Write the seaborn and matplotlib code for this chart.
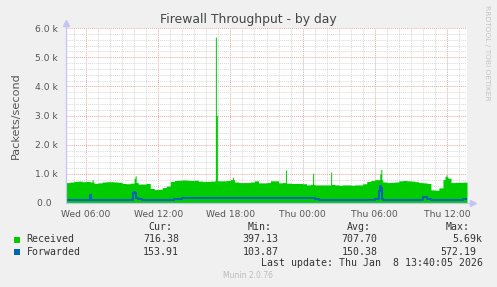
import numpy as np
import pandas as pd
import matplotlib
matplotlib.use("Agg")
import matplotlib.pyplot as plt
import matplotlib.dates as mdates
from matplotlib.ticker import MultipleLocator, FixedLocator, FuncFormatter
import seaborn as sns

# ---------------- data (packets/second, 20-minute bins from Wed 04:20) ----------------
start_time = "2026-01-07 04:20"
received_base = [
    700, 720, 740, 750, 730, 740, 720, 670, 690, 720,
    730, 730, 720, 710, 670, 660, 680, 700, 650, 650,
    670, 500, 460, 470, 530, 580, 740, 770, 780, 790,
    780, 770, 780, 750, 740, 740, 750, 760, 760, 760,
    770, 800, 720, 700, 700, 700, 720, 760, 690, 690,
    700, 760, 760, 690, 700, 680, 670, 670, 670, 660,
    620, 640, 620, 620, 620, 620, 640, 620, 610, 620,
    620, 610, 620, 620, 660, 740, 770, 800, 800, 720,
    700, 710, 720, 760, 770, 760, 750, 730, 700, 690,
    670, 450, 440, 520, 800, 850, 700, 710, 710, 716,
]
forwarded_base = [
    120, 120, 100, 100, 100, 110, 110, 110, 110, 110,
    110, 110, 110, 110, 110, 110, 120, 160, 130, 120,
    120, 120, 120, 120, 120, 120, 120, 130, 150, 160,
    160, 160, 160, 160, 160, 160, 160, 160, 160, 160,
    160, 160, 160, 160, 160, 160, 160, 160, 160, 160,
    160, 160, 160, 160, 160, 160, 160, 160, 160, 160,
    160, 160, 140, 120, 120, 120, 120, 120, 110, 120,
    120, 110, 120, 120, 120, 120, 120, 130, 150, 120,
    110, 110, 110, 110, 110, 110, 110, 110, 120, 190,
    130, 120, 120, 120, 120, 120, 120, 120, 120, 154,
]
# short spikes (5-minute samples)
received_spike_times = ["2026-01-07 06:30", "2026-01-07 10:00", "2026-01-07 10:05",
                        "2026-01-07 16:45", "2026-01-07 16:50", "2026-01-07 18:10",
                        "2026-01-07 22:35", "2026-01-08 00:50", "2026-01-08 02:20",
                        "2026-01-08 06:25", "2026-01-08 06:30", "2026-01-08 11:50",
                        "2026-01-08 11:55", "2026-01-08 12:00"]
received_spike_vals = [800, 850, 930, 5690, 3000, 880, 1130, 1020, 1060,
                       1000, 1150, 900, 960, 900]
forwarded_spike_times = ["2026-01-07 06:20", "2026-01-07 09:55", "2026-01-07 10:00",
                         "2026-01-07 10:05", "2026-01-08 06:20", "2026-01-08 06:25",
                         "2026-01-08 06:30", "2026-01-08 10:00"]
forwarded_spike_vals = [270, 330, 390, 350, 400, 572, 500, 220]

yticks = [0, 1000, 2000, 3000, 4000, 5000, 6000]
ytick_labels = ["0.0  ", "1.0 k", "2.0 k", "3.0 k", "4.0 k", "5.0 k", "6.0 k"]
series_names = ["Received", "Forwarded"]
series_colors = ["#00CC00", "#0066B3"]
stat_headers = ["Cur:", "Min:", "Avg:", "Max:"]
stats_received = ["716.38", "397.13", "707.70", "5.69k"]
stats_forwarded = ["153.91", "103.87", "150.38", "572.19"]
last_update = "Last update: Thu Jan  8 13:40:05 2026"

# ---------------- build 5-minute series ----------------
t0 = pd.Timestamp(start_time)
t5 = pd.date_range(t0, periods=400, freq="5min")
rec = pd.Series(np.repeat(np.array(received_base, float), 4), index=t5)
fwd = pd.Series(np.repeat(np.array(forwarded_base, float), 4), index=t5)
for tt, v in zip(received_spike_times, received_spike_vals):
    rec[pd.Timestamp(tt)] = v
for tt, v in zip(forwarded_spike_times, forwarded_spike_vals):
    fwd[pd.Timestamp(tt)] = v
t_end = t5[-1] + pd.Timedelta("5min")
tt_all = list(t5) + [t_end]
rec_all = list(rec.values) + [rec.values[-1]]
fwd_all = list(fwd.values) + [fwd.values[-1]]
df = pd.DataFrame({"time": tt_all, "received": rec_all, "forwarded": fwd_all})

# ---------------- figure ----------------
sns.set_style("white")
plt.rcParams['font.family'] = ['DejaVu Sans']
W, H = 497, 287
fig = plt.figure(figsize=(W / 100, H / 100), dpi=100, facecolor="#F0F0F0")
ax = fig.add_axes([66 / W, 84 / H, 401 / W, 175 / H])
ax.set_facecolor("white")

ax.fill_between(df["time"], df["received"], step="post", color=series_colors[0],
                lw=0, zorder=3)
sns.lineplot(data=df, x="time", y="forwarded", drawstyle="steps-post",
             color=series_colors[1], lw=1.5, ax=ax, zorder=4)

ax.set_xlim(t0, t_end)
ax.set_ylim(0, 6000)
ax.xaxis.set_major_locator(mdates.HourLocator(byhour=[0, 6, 12, 18]))
ax.xaxis.set_minor_locator(mdates.HourLocator())
ax.xaxis.set_major_formatter(mdates.DateFormatter("%a %H:%M"))
ax.yaxis.set_major_locator(FixedLocator(yticks))
ax.set_yticklabels(ytick_labels)
ax.yaxis.set_minor_locator(MultipleLocator(200))

ax.grid(which="minor", color="#D8D8D8", lw=0.7, ls=(0, (1, 1)), zorder=1)
ax.grid(which="major", color="#E8A8A8", lw=0.7, ls=(0, (1, 1)), zorder=2)
ax.set_axisbelow(True)

ax.tick_params(axis="both", which="both", labelsize=6.6, labelcolor="#555555",
               color="#AAAAAA", length=0)
ax.tick_params(axis="x", which="both", length=2, width=0.6, pad=3, direction="out")
ax.tick_params(axis="y", which="major", pad=6)
for s in ax.spines.values():
    s.set_visible(False)
ax.set_xlabel("")
ax.set_ylabel("Packets/second", fontsize=8.1, color="#555555", labelpad=10)

# rrdtool style axes with arrows
axis_col = "#C4C4F4"
ax.plot([0, 0], [0, 1.03], transform=ax.transAxes, color=axis_col, lw=0.9,
        clip_on=False, zorder=5)
ax.plot([0, 1.015], [0, 0], transform=ax.transAxes, color=axis_col, lw=0.9,
        clip_on=False, zorder=5)
ax.plot([0], [1.03], transform=ax.transAxes, marker="^", ms=4, color=axis_col,
        clip_on=False, zorder=5)
ax.plot([1.015], [0], transform=ax.transAxes, marker=">", ms=4, color=axis_col,
        clip_on=False, zorder=5)

# title and side text
fig.text(248 / W, 1 - 20 / H, "Firewall Throughput - by day", ha="center",
         va="center", fontsize=8.9, color="#444444")
fig.text(487 / W, 1 - 53 / H, "RRDTOOL / TOBI OETIKER", rotation=270, ha="center",
         va="center", fontsize=5.4, color="#C4C4C4")

# legend
mono = "DejaVu Sans Mono"
fs = 7.15
tc = "#333333"
head_x = [172.7, 271.7, 370.7, 470]
val_x = [179, 278.3, 377.3, 482.7]
def fy(y):
    return 1 - y / H
for hx, h in zip(head_x, stat_headers):
    fig.text(hx / W, fy(227.3), h, ha="right", va="center", family=mono, fontsize=fs, color=tc)
rows_y = [239.5, 251.8]
for name, col, stats, ry in zip(series_names, series_colors,
                                [stats_received, stats_forwarded], rows_y):
    fig.patches.append(plt.Rectangle((14 / W, fy(ry + 3)), 6 / W, 6 / H,
                                     transform=fig.transFigure, facecolor=col,
                                     edgecolor=col, lw=0))
    fig.text(26.7 / W, fy(ry), name, ha="left", va="center", family=mono,
             fontsize=fs, color=tc)
    for i, (vx, v) in enumerate(zip(val_x, stats)):
        x = vx
        if i == 3 and not v.endswith("k"):
            x = vx - 6
        fig.text(x / W, fy(ry), v, ha="right", va="center", family=mono,
                 fontsize=fs, color=tc)
fig.text(482.7 / W, fy(263.5), last_update, ha="right", va="center", family=mono,
         fontsize=fs, color=tc)
fig.text(248 / W, fy(276), "Munin 2.0.76", ha="center", va="center",
         fontsize=5.5, color="#BBBBBB")

fig.savefig("out.png", dpi=100, facecolor=fig.get_facecolor())
